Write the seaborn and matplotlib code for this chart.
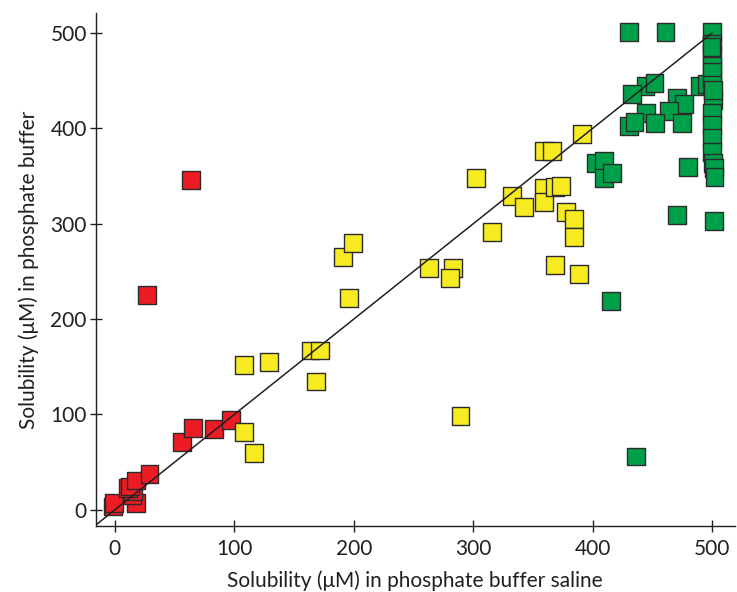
import numpy as np
import pandas as pd
import matplotlib
matplotlib.use("Agg")
import matplotlib.pyplot as plt
import seaborn as sns

# ---- data ----
red_x = [-1.7, -0.8, 17.8, 14.5, 15.0, 10.9, 12.3, 17.8, 29.0, 56.0, 65.2, 83.3, 97.3, 27.0, 63.8]
red_y = [3.5, 7.0, 7.0, 15.7, 19.2, 22.7, 24.4, 30.7, 37.7, 71.0, 85.6, 84.6, 94.3, 225.0, 346.0]

yellow_x = [108.0, 116.8, 107.9, 129.3, 164.0, 171.7, 168.3, 195.7, 191.2, 199.6,
            263.1, 283.2, 280.4, 289.3, 302.0, 315.5, 332.8, 342.5, 359.3, 359.3,
            368.5, 373.2, 359.3, 366.2, 378.0, 384.3, 384.3, 368.2, 388.5, 391.3]
yellow_y = [82.0, 59.4, 152.0, 154.8, 167.0, 167.0, 134.5, 222.5, 265.5, 279.5,
            254.0, 254.0, 243.5, 98.5, 348.3, 291.7, 329.5, 317.3, 337.2, 322.5,
            338.3, 339.6, 376.3, 376.3, 312.0, 305.0, 286.5, 256.8, 247.0, 393.8]

green_x = [430.3, 461.0, 444.3, 451.8, 433.1, 489.7, 495.8, 470.7, 476.3, 463.8,
           445.0, 430.3, 435.0, 452.0, 475.0, 402.4, 409.4, 409.4, 416.4, 480.0,
           470.7, 501.4, 415.6, 436.5,
           500.0, 500.0, 500.0, 500.0, 500.0, 500.0, 500.5, 500.0, 500.0, 500.0,
           500.0, 501.0, 501.5, 502.0, 501.0, 499.5]
green_y = [500.7, 501.4, 444.4, 447.3, 436.0, 444.4, 446.5, 431.5, 425.6, 418.6,
           415.8, 402.5, 407.0, 405.3, 405.3, 364.0, 365.8, 348.4, 353.0, 359.2,
           309.2, 303.3, 219.0, 55.9,
           501.0, 489.0, 478.0, 465.0, 459.0, 445.5, 430.0, 416.5, 403.6, 390.3,
           375.6, 363.5, 358.2, 349.4, 440.0, 485.0]

groups = ["low", "mid", "high"]
colors = ["#ED1C24", "#F6EB20", "#00A04B"]

df = pd.concat([
    pd.DataFrame({"pbs": red_x, "pb": red_y, "group": groups[0]}),
    pd.DataFrame({"pbs": yellow_x, "pb": yellow_y, "group": groups[1]}),
    pd.DataFrame({"pbs": green_x, "pb": green_y, "group": groups[2]}),
], ignore_index=True)

sns.set_theme(style="ticks")
plt.rcParams["font.family"] = ["Lato", "DejaVu Sans"]
text_color = "#231F20"

fig = plt.figure(figsize=(7.37, 5.92), dpi=100)
ax = fig.add_axes([0.130, 0.1115, 0.867, 0.8665])

ax.plot([-20, 500], [-20, 500], color="#231F20", lw=1.1, zorder=3)

sns.scatterplot(data=df, x="pbs", y="pb", hue="group", hue_order=groups,
                palette=colors, marker="s", s=165, edgecolor="#2b2b2b",
                linewidth=1.0, legend=False, ax=ax, zorder=2)

ax.set_xlim(-16, 519)
ax.set_ylim(-17, 521)
ax.set_xticks([0, 100, 200, 300, 400, 500])
ax.set_yticks([0, 100, 200, 300, 400, 500])
ax.tick_params(direction="inout", length=9, width=1.0, color=text_color,
               labelsize=15, labelcolor=text_color)
ax.tick_params(axis="x", pad=5)
ax.tick_params(axis="y", pad=2)
for s in ["top", "right"]:
    ax.spines[s].set_visible(False)
for s in ["left", "bottom"]:
    ax.spines[s].set_color(text_color)
    ax.spines[s].set_linewidth(1.0)

ax.set_xlabel("Solubility (μM) in phosphate buffer saline", fontsize=15,
              color=text_color, labelpad=8)
ax.set_ylabel("Solubility (μM) in phosphate buffer", fontsize=15,
              color=text_color, labelpad=8)

fig.savefig("out.png", dpi=100)
